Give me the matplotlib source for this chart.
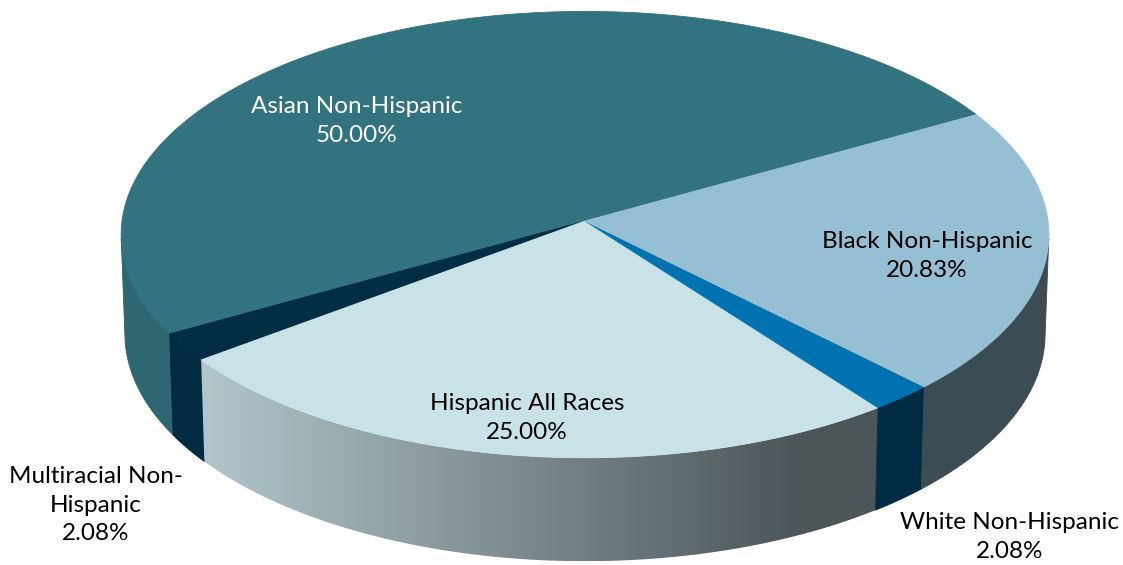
import matplotlib.pyplot as plt
import numpy as np
from matplotlib.patches import Polygon

# population shares, in drawing order counter-clockwise from the start angle
groups = ["Asian Non-Hispanic", "Multiracial Non-\nHispanic", "Hispanic All Races",
          "White Non-Hispanic", "Black Non-Hispanic"]
shares = [50.00, 2.08, 25.00, 2.08, 20.83]
top_colors = ["#33737F", "#032D44", "#C9E2E8", "#0072B0", "#97BFD4"]
side_colors = ["#2E6672", "#022A40", None, "#002B42", "#3C4C55"]
label_colors = ["white", "black", "black", "black", "black"]
label_xy = [(357, 121), (96, 505), (527, 418), (1010, 537), (927, 256)]

# camera / projection settings (pixel space)
W, H = 1123, 565
cx, cy = 585, 221
elev = np.radians(28.7)
dist = 14.4
scale = 463 * dist
thick = 0.246
start = 29.5


def project(theta, z=0.0, r=1.0):
    x = r * np.cos(theta)
    y = r * np.sin(theta)
    depth = y * np.cos(elev) + dist - z * np.sin(elev)
    up = y * np.sin(elev) + z * np.cos(elev)
    return cx + scale * x / depth, cy - scale * up / depth


fig = plt.figure(figsize=(W / 100, H / 100), dpi=100)
ax = fig.add_axes([0, 0, 1, 1])
ax.set_xlim(0, W)
ax.set_ylim(H, 0)
ax.axis("off")

vals = np.array(shares)
edges = start + 360 * np.concatenate([[0], np.cumsum(vals)]) / vals.sum()

# outer rim: only the part facing the viewer
lim = np.degrees(np.arcsin(1 / (dist * np.cos(elev))))
vis_lo, vis_hi = 180 + lim, 360 - lim
for i in range(len(vals)):
    a0, a1 = edges[i], edges[i + 1]
    for shift in (0, -360):
        lo = max(a0 + shift, vis_lo)
        hi = min(a1 + shift, vis_hi)
        if hi <= lo:
            continue
        t = np.radians(np.linspace(lo, hi, 120))
        xt, yt = project(t, 0)
        xb, yb = project(t, -thick)
        pts = np.column_stack([np.r_[xt, xb[::-1]], np.r_[yt, yb[::-1]]])
        if side_colors[i] is None:
            # shaded rim: horizontal light-to-dark gradient
            poly = Polygon(pts, closed=True, facecolor="none", edgecolor="none")
            ax.add_patch(poly)
            x0, x1 = pts[:, 0].min(), pts[:, 0].max()
            y0, y1 = pts[:, 1].min(), pts[:, 1].max()
            c0 = np.array([0xB2, 0xC6, 0xCB]) / 255
            c1 = np.array([0x4C, 0x55, 0x58]) / 255
            f = np.clip(np.linspace(0, 1, 400) * 1.12, 0, 1)[None, :, None]
            img = c0 + (c1 - c0) * f
            im = ax.imshow(np.repeat(img, 2, axis=0), extent=(x0, x1, y1, y0),
                           aspect="auto", interpolation="bilinear", zorder=1)
            im.set_clip_path(poly)
        else:
            ax.add_patch(Polygon(pts, closed=True, facecolor=side_colors[i],
                                 edgecolor=side_colors[i], lw=0.6, zorder=1))

# top faces
for i in range(len(vals)):
    t = np.radians(np.linspace(edges[i], edges[i + 1], 200))
    xs, ys = project(t, 0)
    pts = np.column_stack([np.r_[cx, xs], np.r_[cy, ys]])
    ax.add_patch(Polygon(pts, closed=True, facecolor=top_colors[i],
                         edgecolor=top_colors[i], lw=0.6, zorder=2))

for name, v, (lx, ly), col in zip(groups, shares, label_xy, label_colors):
    ax.text(lx, ly, f"{name}\n{v:.2f}%", ha="center", va="center", color=col,
            fontsize=17.5, family="Lato", linespacing=1.42, zorder=3)

fig.savefig("out.png", dpi=100)
